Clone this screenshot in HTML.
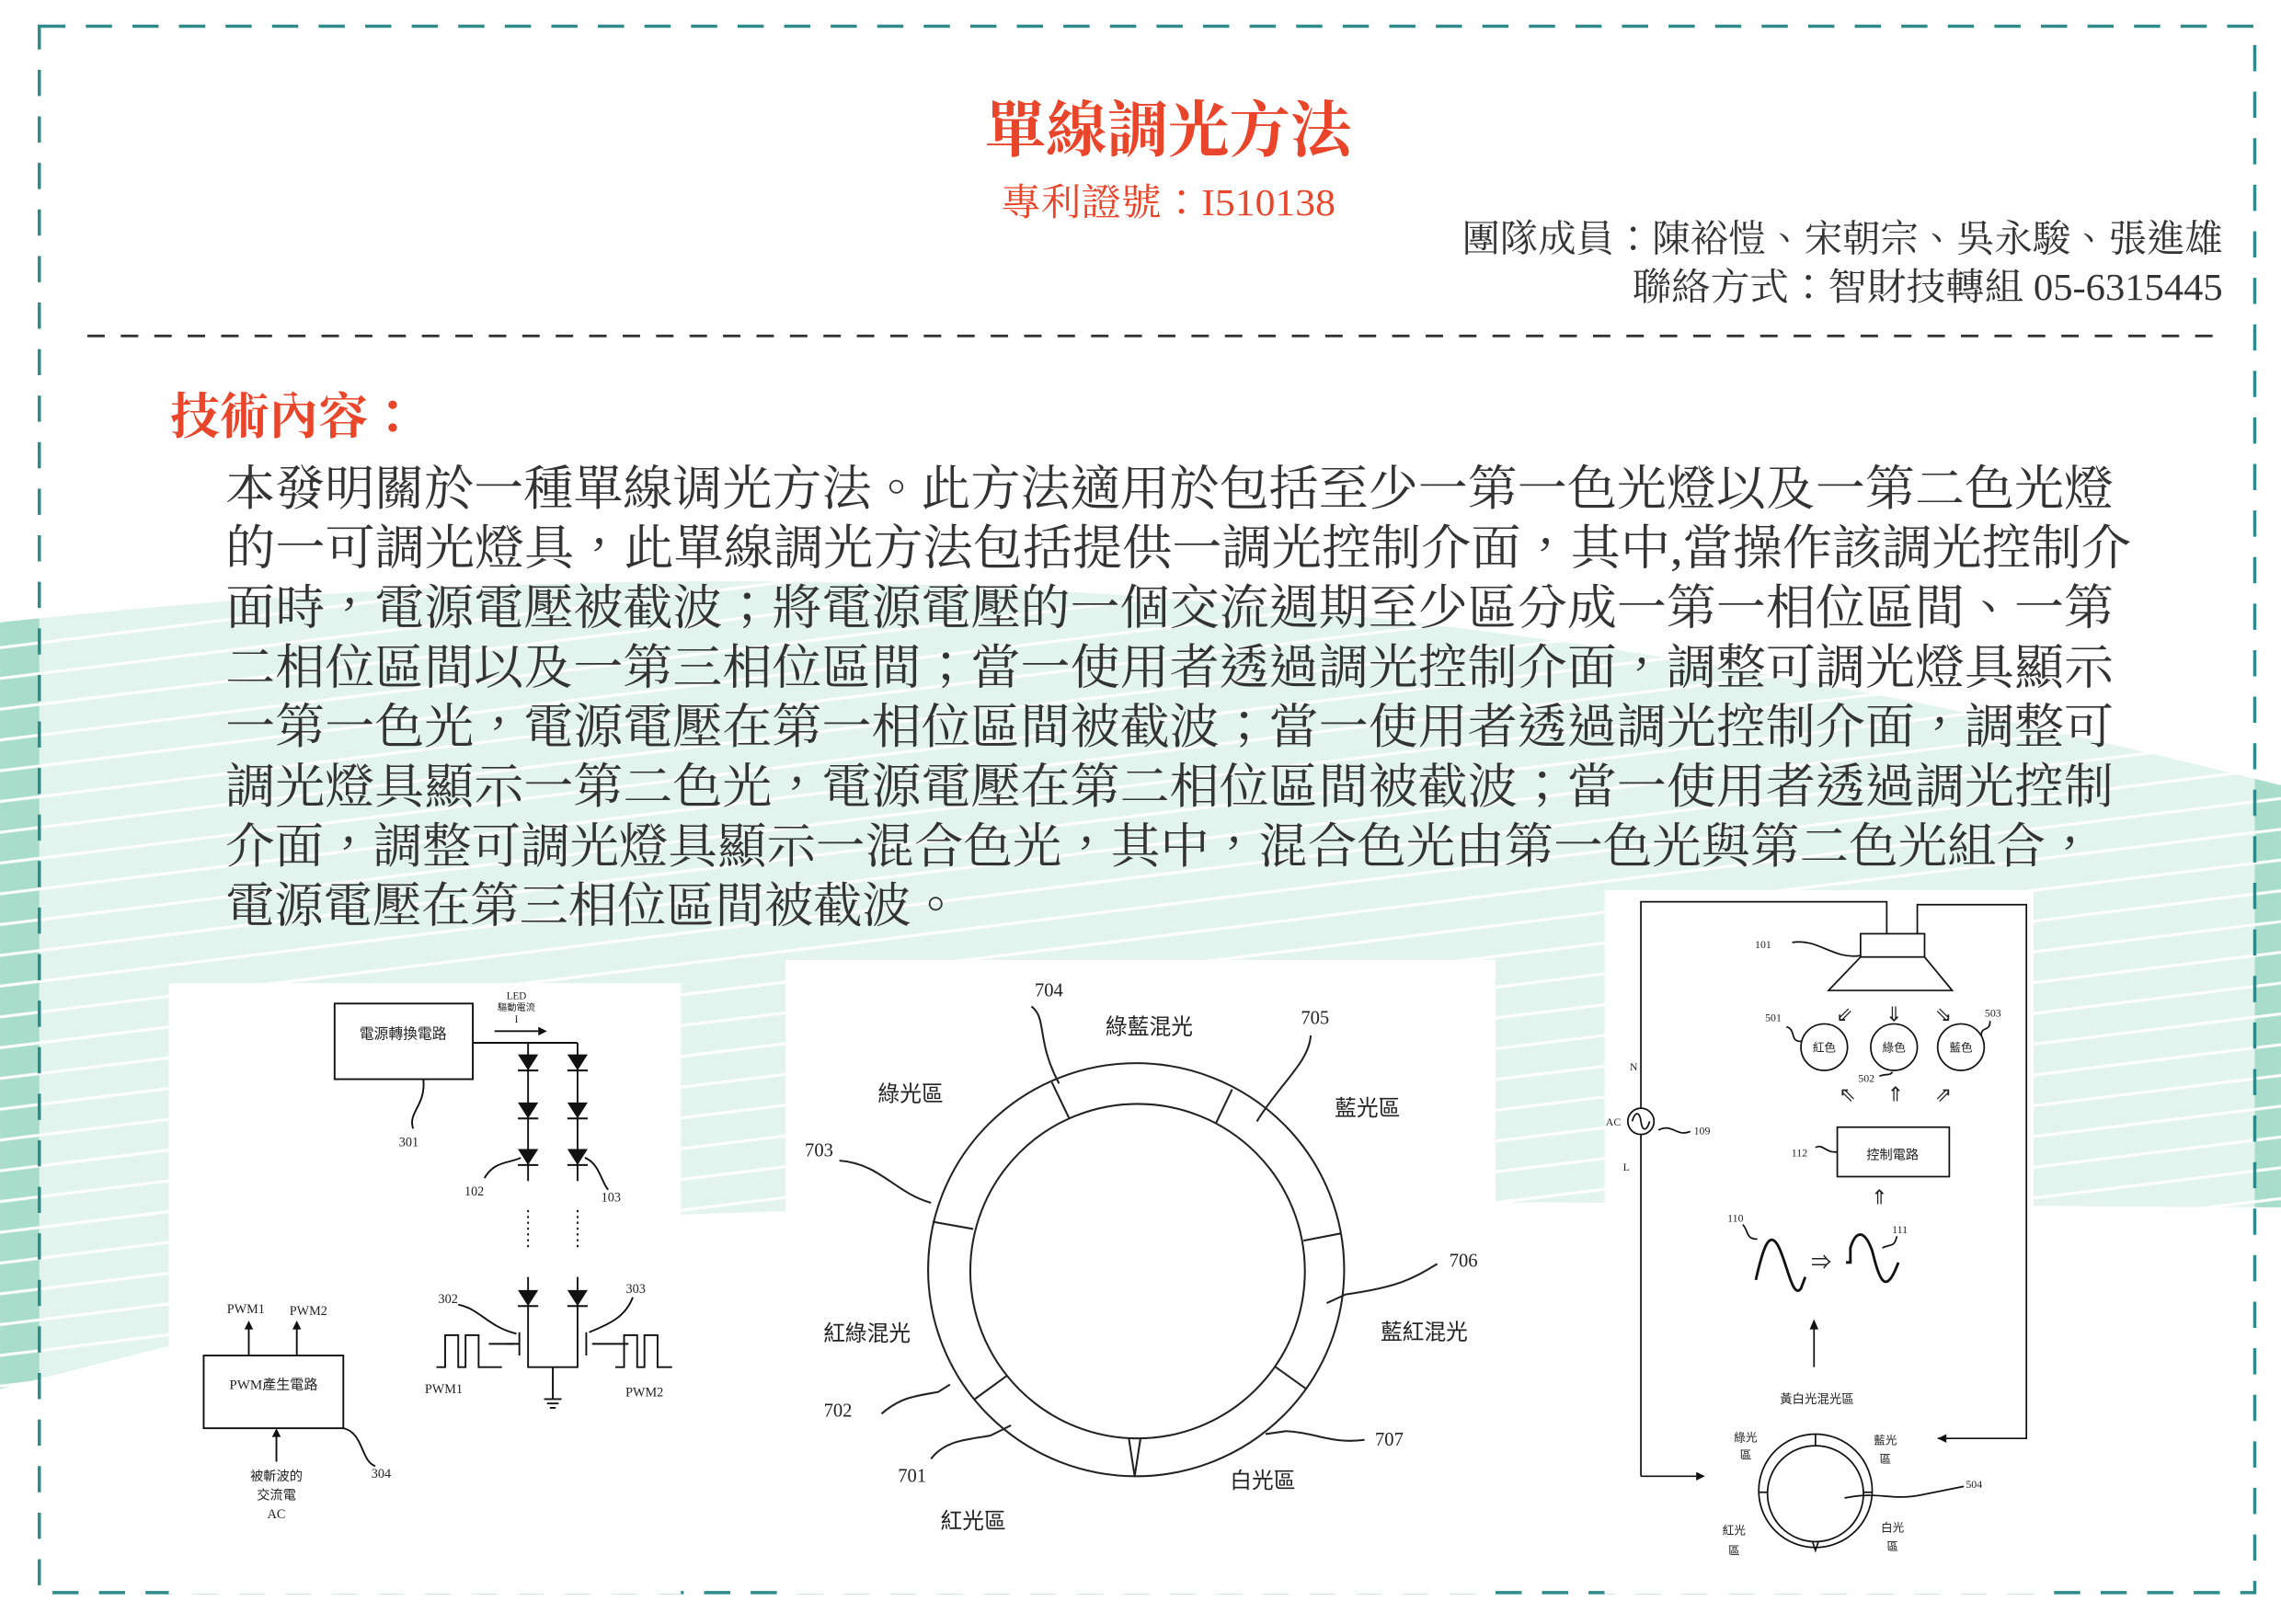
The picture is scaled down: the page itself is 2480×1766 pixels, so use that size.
<!DOCTYPE html>
<html><head><meta charset="utf-8"><style>
html,body{margin:0;padding:0;background:#fff;}
svg{display:block;}
.s{font-family:"Liberation Serif","Noto Serif CJK TC","Noto Serif CJK SC",serif;}
.d{font-family:"Liberation Serif","Noto Sans CJK TC",sans-serif;fill:#222;}
</style></head><body>
<svg width="2480" height="1766" viewBox="0 0 1568 1116.6" xmlns="http://www.w3.org/2000/svg">
<defs>
<pattern id="st" width="60" height="21" patternUnits="userSpaceOnUse" patternTransform="rotate(-7)">
<rect x="0" y="0" width="60" height="2" fill="#fff"/>
</pattern>
<clipPath id="band"><path d="M0,428 C400,385 900,370 1568,540 L1568,830 C1300,830 900,820 470,835 L0,955 Z"/></clipPath>
<g id="dio"><path d="M-7,-6 L7,-6 L0,5 Z" fill="#111"/><line x1="-7" y1="5" x2="7" y2="5" stroke="#111" stroke-width="1.3"/></g>
</defs>
<rect width="1568" height="1117" fill="#fff"/>
<g clip-path="url(#band)">
<rect x="0" y="350" width="1568" height="650" fill="#e3f3ee"/>
<rect x="0" y="350" width="27" height="650" fill="#a8dccb"/>
<rect x="1550" y="350" width="18" height="650" fill="#a8dccb"/>
<rect x="0" y="350" width="1568" height="650" fill="url(#st)"/>
</g>
<rect x="27" y="18" width="1523" height="1077" fill="none" stroke="#2f8a8a" stroke-width="2.2" stroke-dasharray="18,14"/>
<line x1="60" y1="231" x2="1525" y2="231" stroke="#333" stroke-width="1.8" stroke-dasharray="12,11"/>
<text class="s" x="803" y="104" text-anchor="middle" font-size="42" fill="#e8452b" font-weight="bold">單線調光方法</text>
<text class="s" x="688" y="148" font-size="26" fill="#e8452b" textLength="230" lengthAdjust="spacingAndGlyphs">專利證號：I510138</text>
<text class="s" x="1005" y="173" font-size="26" fill="#333" textLength="523" lengthAdjust="spacingAndGlyphs">團隊成員：陳裕愷、宋朝宗、吳永駿、張進雄</text>
<text class="s" x="1122" y="206" font-size="26" fill="#333" textLength="406" lengthAdjust="spacingAndGlyphs">聯絡方式：智財技轉組 05-6315445</text>
<text class="s" x="117" y="298" font-size="34" fill="#e8452b" font-weight="bold">技術內容：</text>
<g class="s" font-size="33" fill="#333">
<text x="155" y="347" textLength="1298" lengthAdjust="spacingAndGlyphs">本發明關於一種單線调光方法。此方法適用於包括至少一第一色光燈以及一第二色光燈</text>
<text x="155" y="388" textLength="1310" lengthAdjust="spacingAndGlyphs">的一可調光燈具，此單線調光方法包括提供一調光控制介面，其中,當操作該調光控制介</text>
<text x="155" y="429" textLength="1298" lengthAdjust="spacingAndGlyphs">面時，電源電壓被截波；將電源電壓的一個交流週期至少區分成一第一相位區間、一第</text>
<text x="155" y="470" textLength="1298" lengthAdjust="spacingAndGlyphs">二相位區間以及一第三相位區間；當一使用者透過調光控制介面，調整可調光燈具顯示</text>
<text x="155" y="511" textLength="1298" lengthAdjust="spacingAndGlyphs">一第一色光，電源電壓在第一相位區間被截波；當一使用者透過調光控制介面，調整可</text>
<text x="155" y="552" textLength="1298" lengthAdjust="spacingAndGlyphs">調光燈具顯示一第二色光，電源電壓在第二相位區間被截波；當一使用者透過調光控制</text>
<text x="155" y="593" textLength="1285" lengthAdjust="spacingAndGlyphs">介面，調整可調光燈具顯示一混合色光，其中，混合色光由第一色光與第二色光組合，</text>
<text x="155" y="634" textLength="505" lengthAdjust="spacingAndGlyphs">電源電壓在第三相位區間被截波。</text>
</g>
<rect x="116" y="676" width="352" height="420" fill="#fff"/>
<rect x="540" y="660" width="488" height="436" fill="#fff"/>
<rect x="1103" y="612" width="295" height="484" fill="#fff"/>

<!-- LEFT DIAGRAM -->
<g fill="none" stroke="#111" stroke-width="1.2">
<rect x="230" y="690" width="95" height="52"/>
<path d="M325,717 L397,717 M363,717 L363,812 M397,717 L397,812"/>
<path d="M340,709 L370,709"/>
<path d="M363,832 L363,858 M397,832 L397,858" stroke-dasharray="1.5,2.5"/>
<path d="M363,878 L363,918 M397,878 L397,918 M363,918 L363,940 L397,940 L397,918 M380,940 L380,962"/>
<path d="M374,962 L386,962 M376,965 L384,965 M378,968 L382,968"/>
<path d="M357,916 L357,932 M353,924 L348,924 M403,916 L403,932 M407,924 L432,924"/>
<path d="M336,924 L357,924"/>
<path d="M300,940 L306,940 L306,918 L315,918 L315,940 L320,940 L320,918 L329,918 L329,940 L345,940"/>
<path d="M423,940 L429,940 L429,918 L438,918 L438,940 L443,940 L443,918 L452,918 L452,940 L462,940"/>
<path d="M291,742 C293,760 280,765 284,776"/>
<path d="M333,810 C340,798 350,800 358,796"/>
<path d="M402,796 C412,800 413,812 418,818"/>
<path d="M315,897 C330,900 335,912 355,917"/>
<path d="M435,892 C430,905 420,910 405,916"/>
<rect x="140" y="932" width="96" height="50"/>
<path d="M171,932 L171,912 M204,932 L204,912 M190,1005 L190,986"/>
<path d="M236,982 C250,985 248,1005 258,1008"/>
</g>
<path d="M370,706 L376,709 L370,712 Z M168,914 L171,908 L174,914 Z M201,914 L204,908 L207,914 Z M187,988 L190,982 L193,988 Z" fill="#111"/>
<use href="#dio" x="363" y="731"/><use href="#dio" x="363" y="764"/><use href="#dio" x="363" y="796"/>
<use href="#dio" x="397" y="731"/><use href="#dio" x="397" y="764"/><use href="#dio" x="397" y="796"/>
<use href="#dio" x="363" y="893"/><use href="#dio" x="397" y="893"/>
<g class="d" font-size="9" text-anchor="middle">
<text x="277" y="714" font-size="10">電源轉換電路</text>
<text x="355" y="687" font-size="7">LED</text>
<text x="355" y="695" font-size="6.5">驅動電流</text>
<text x="355" y="703" font-size="7">I</text>
<text x="281" y="788">301</text><text x="326" y="822">102</text><text x="420" y="826">103</text>
<text x="308" y="896">302</text><text x="437" y="889">303</text>
<text x="305" y="958">PWM1</text><text x="443" y="960">PWM2</text>
<text x="169" y="903">PWM1</text><text x="212" y="904">PWM2</text>
<text x="188" y="955" font-size="9.5">PWM產生電路</text>
<text x="190" y="1018">被斬波的</text><text x="190" y="1031">交流電</text><text x="190" y="1044">AC</text>
<text x="262" y="1016">304</text>
</g>

<!-- MIDDLE DIAGRAM -->
<g fill="none" stroke="#222" stroke-width="1.3">
<ellipse cx="781" cy="873" rx="143" ry="142"/>
<ellipse cx="782" cy="874" rx="115" ry="115"/>
<path d="M723,744 L735,769 M847,749 L836,772 M922,848 L896,853 M877,940 L898,955 M641,840 L669,845 M670,962 L692,946"/>
<path d="M776,989 L780,1015 L784,989"/>
<path d="M709,692 C720,700 712,715 728,745"/>
<path d="M901,712 C900,730 880,745 864,771"/>
<path d="M577,798 C605,800 615,820 640,827"/>
<path d="M988,869 C970,880 960,885 925,890 L912,896"/>
<path d="M606,972 C620,960 630,960 645,957 L653,952"/>
<path d="M938,990 C915,993 905,985 884,984 L870,986"/>
<path d="M640,1003 C650,990 665,990 681,987 L695,980"/>
</g>
<g class="d" font-size="15" text-anchor="middle">
<text x="721" y="685" font-size="13">704</text>
<text x="790" y="711">綠藍混光</text>
<text x="904" y="704" font-size="13">705</text>
<text x="626" y="757">綠光區</text>
<text x="940" y="767">藍光區</text>
<text x="563" y="795" font-size="13">703</text>
<text x="1006" y="871" font-size="13">706</text>
<text x="596" y="922">紅綠混光</text>
<text x="979" y="921">藍紅混光</text>
<text x="576" y="974" font-size="13">702</text>
<text x="955" y="994" font-size="13">707</text>
<text x="627" y="1019" font-size="13">701</text>
<text x="868" y="1023">白光區</text>
<text x="669" y="1051">紅光區</text>
</g>

<!-- RIGHT DIAGRAM -->
<g fill="none" stroke="#111" stroke-width="1.1">
<path d="M1128,1015 L1128,780 M1128,762 L1128,620 L1297,620 L1297,642"/>
<path d="M1318,642 L1318,622 L1393,622 L1393,989 L1332,989"/>
<path d="M1128,1015 L1166,1015"/>
<circle cx="1128" cy="771" r="9"/>
<path d="M1122,771 C1124,764 1127,764 1128,771 C1129,778 1132,778 1134,771"/>
<path d="M1140,777 C1150,772 1152,782 1162,778"/>
<rect x="1279" y="642" width="44" height="16"/>
<path d="M1279,658 L1257,681 L1342,681 L1323,658"/>
<path d="M1232,648 C1250,645 1260,660 1279,657"/>
<circle cx="1254" cy="720" r="16"/><circle cx="1302" cy="720" r="16"/><circle cx="1348" cy="720" r="16"/>
<path d="M1228,706 C1235,708 1230,716 1238,716"/>
<path d="M1292,740 C1296,738 1299,740 1301,737"/>
<path d="M1368,702 C1368,710 1362,705 1362,712"/>
<rect x="1263" y="775" width="77" height="34"/>
<path d="M1248,789 C1253,786 1255,793 1263,792"/>
<path d="M1207,880 C1212,858 1216,846 1222,856 C1228,866 1232,894 1238,886 L1241,878" stroke-width="1.8"/>
<path d="M1269,868 L1272,868 L1272,858 C1276,845 1282,846 1287,860 C1292,880 1296,892 1305,868" stroke-width="1.8"/>
<path d="M1198,842 C1202,846 1200,852 1208,852"/>
<path d="M1304,850 C1302,858 1300,855 1294,858"/>
<path d="M1247,940 L1247,912"/>
<circle cx="1248" cy="1025" r="39"/>
<circle cx="1248" cy="1027" r="33"/>
<path d="M1248,986 L1248,994 M1209,1026 L1215,1026 M1281,1026 L1287,1026 M1246,1060 L1248,1066 L1250,1060"/>
<path d="M1268,1030 C1290,1025 1300,1032 1320,1028 L1350,1022"/>
</g>
<path d="M1166,1012 L1172,1015 L1166,1018 Z M1338,986 L1332,989 L1338,992 Z M1244,914 L1247,907 L1250,914 Z" fill="#111"/>
<g class="d" font-size="14" text-anchor="middle" fill="#333">
<text x="1268" y="702">⇙</text><text x="1302" y="702">⇓</text><text x="1336" y="702">⇘</text>
<text x="1270" y="757">⇖</text><text x="1303" y="757">⇑</text><text x="1336" y="757">⇗</text>
<text x="1292" y="828">⇑</text><text x="1252" y="873">⇒</text>
</g>
<g class="d" font-size="7.5" text-anchor="middle">
<text x="1212" y="652">101</text><text x="1219" y="702">501</text><text x="1283" y="744">502</text><text x="1370" y="699">503</text>
<text x="1254" y="723" font-size="8">紅色</text><text x="1302" y="723" font-size="8">綠色</text><text x="1348" y="723" font-size="8">藍色</text>
<text x="1123" y="736">N</text><text x="1109" y="774">AC</text><text x="1118" y="805">L</text><text x="1170" y="780">109</text>
<text x="1237" y="795">112</text><text x="1301" y="797" font-size="9">控制電路</text>
<text x="1193" y="840">110</text><text x="1306" y="848">111</text>
<text x="1249" y="965" font-size="8.5">黃白光混光區</text>
<text x="1200" y="991" font-size="8">綠光</text><text x="1200" y="1003" font-size="8">區</text>
<text x="1296" y="993" font-size="8">藍光</text><text x="1296" y="1006" font-size="8">區</text>
<text x="1192" y="1055" font-size="8">紅光</text><text x="1192" y="1069" font-size="8">區</text>
<text x="1301" y="1053" font-size="8">白光</text><text x="1301" y="1066" font-size="8">區</text>
<text x="1357" y="1023">504</text>
</g>
</svg>
</body></html>
